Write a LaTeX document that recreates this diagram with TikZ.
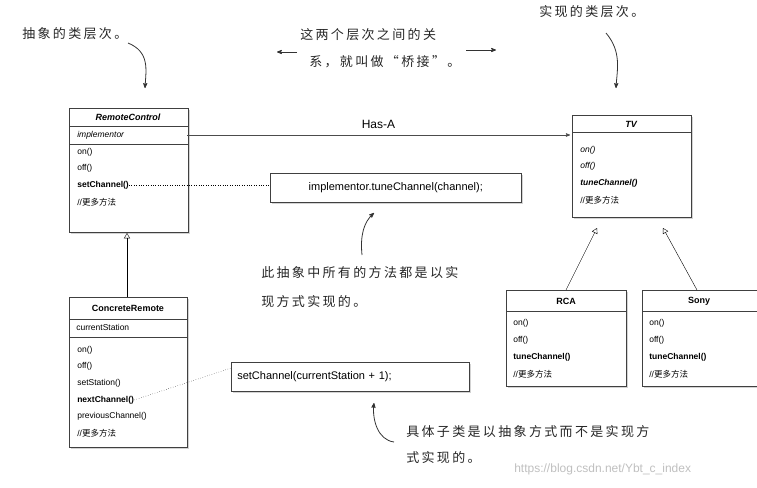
\documentclass[tikz,border=0pt]{standalone}
\usepackage{fontspec}
\setmainfont{Liberation Sans}
\newfontfamily\cjk{Noto Sans CJK SC}
\newfontfamily\cjkhand[LetterSpace=18]{Noto Sans CJK SC}
\usetikzlibrary{arrows,shadows}

\begin{document}
\begin{tikzpicture}[x=1pt, y=-1pt, >=stealth', semithick,
  umlbox/.style={draw=black!75, fill=white, drop shadow={opacity=0.35, shadow xshift=2pt, shadow yshift=-2pt}},
  codebox/.style={draw=black!75, fill=white, minimum height=29pt, inner xsep=6pt, anchor=north west, font=\fontsize{11}{12}\selectfont, drop shadow={opacity=0.35, shadow xshift=2pt, shadow yshift=-2pt}},
  member/.style={anchor=west, inner sep=0pt, font=\fontsize{8.5}{9}\selectfont},
  title/.style={inner sep=0pt, font=\fontsize{9}{10}\selectfont\bfseries},
  note/.style={anchor=west, inner sep=0pt, font=\cjkhand\fontsize{13}{14}\selectfont, text=black!85},
  inherit/.style={-{open triangle 60[scale=2.2]}, thin},
  hand/.style={->, thick, black!80}]
\useasboundingbox (0,0) rectangle (757,487);

% abstraction side
\draw[umlbox] (69,108) rectangle (188,232);
\draw[black!75] (69,126) -- (188,126) (69,144) -- (188,144);
\node[title] (rc) at (128,117) {\itshape RemoteControl};
\node[member] (impl) at (77,135) {\itshape implementor};
\node[member] (rcon) at (77,152) {on()};
\node[member] (rcoff) at (77,168) {off()};
\node[member] (rcset) at (77,185) {\bfseries setChannel()};
\node[member] (rcmore) at (77,202) {//{\cjk 更多方法}};
\coordinate (rcbot) at (127,233);
\coordinate (rcright) at (187,135);

\draw[umlbox] (69,297) rectangle (187,447);
\draw[black!75] (69,319) -- (187,319) (69,337) -- (187,337);
\node[title] (cr) at (128,308) {ConcreteRemote};
\node[member] (crst) at (76,327) {currentStation};
\node[member] (cron) at (77,350) {on()};
\node[member] (croff) at (77,366) {off()};
\node[member] (crset) at (77,383) {setStation()};
\node[member] (crnext) at (77,400) {\bfseries nextChannel()};
\node[member] (crprev) at (77,416) {previousChannel()};
\node[member] (crmore) at (77,433) {//{\cjk 更多方法}};
\coordinate (crtop) at (127,297);

% implementation side
\draw[umlbox] (572,115) rectangle (691,217);
\draw[black!75] (572,132) -- (691,132);
\node[title] (tv) at (631,124) {\itshape TV};
\node[member] (tvon) at (580,150) {\itshape on()};
\node[member] (tvoff) at (580,166) {\itshape off()};
\node[member] (tvtune) at (580,183) {\itshape\bfseries tuneChannel()};
\node[member] (tvmore) at (580,200) {//{\cjk 更多方法}};
\coordinate (tvleft) at (570,135);
\coordinate (tvtipa) at (597,228);
\coordinate (tvtipb) at (663,228);

\draw[umlbox] (506,290) rectangle (626,386);
\draw[black!75] (506,311) -- (626,311);
\node[title] (rca) at (566,301) {RCA};
\node[member] (rcaon) at (513,323) {on()};
\node[member] (rcaoff) at (513,340) {off()};
\node[member] (rcatune) at (513,357) {\bfseries tuneChannel()};
\node[member] (rcamore) at (513,374) {//{\cjk 更多方法}};
\coordinate (rcatop) at (566,290);

\draw[umlbox] (642,290) rectangle (762,386);
\draw[black!75] (642,311) -- (762,311);
\node[title] (sony) at (699,301) {Sony};
\node[member] (sonyon) at (649,323) {on()};
\node[member] (sonyoff) at (649,340) {off()};
\node[member] (sonytune) at (649,357) {\bfseries tuneChannel()};
\node[member] (sonymore) at (649,374) {//{\cjk 更多方法}};
\coordinate (sonytop) at (697,290);

% code notes
\node[codebox, minimum width=251pt] (code1) at (270,173) {implementor.tuneChannel(channel);};
\node[codebox, text width=226pt, align=left] (code2) at (231,362) {setChannel(currentStation + 1);};

% connectors
\draw[->, black!70] (rcright) -- node[above=3pt, font=\fontsize{12}{13}\selectfont, text=black] (hasa) {Has-A} (tvleft);
\draw[inherit] (crtop) -- (rcbot);
\draw[inherit] (rcatop) -- (tvtipa);
\draw[inherit] (sonytop) -- (tvtipb);
\draw[dotted, thin] (rcset.east) -- (code1.west |- rcset.east);
\draw[dotted, thin] (crnext.east) -- ([yshift=-6pt]code2.north west);

% handwritten notes
\node[note] (nabs) at (22,34) {抽象的类层次。};
\node[note] (nbr1) at (300,35) {这两个层次之间的关};
\node[note] (nbr2) at (309,62) {系，就叫做“桥接”。};
\node[note] (nimp) at (539,12) {实现的类层次。};
\node[note] (nall1) at (261,273) {此抽象中所有的方法都是以实};
\node[note] (nall2) at (261,302) {现方式实现的。};
\node[note] (nsub1) at (406,432) {具体子类是以抽象方式而不是实现方};
\node[note] (nsub2) at (406,458) {式实现的。};
\node[anchor=west, inner sep=0pt, text=black!25, font=\fontsize{12}{13}\selectfont] (wm) at (514,469) {https://blog.csdn.net/Ybt\_c\_index};

\coordinate (aa) at (128,43);
\coordinate (ab) at (145,88);
\draw[hand] (aa) .. controls (150,52) and (146,70) .. (ab);
\coordinate (ba) at (297,52);
\coordinate (bb) at (277,52);
\coordinate (bc) at (466,50);
\coordinate (bd) at (496,50);
\draw[hand] (ba) -- (bb);
\draw[hand] (bc) -- (bd);
\coordinate (ca) at (606,33);
\coordinate (cb) at (616,88);
\draw[hand] (ca) .. controls (622,52) and (617,70) .. (cb);
\coordinate (da) at (362,255);
\coordinate (db) at (374,213);
\draw[hand] (da) .. controls (360,235) and (364,222) .. (db);
\coordinate (ea) at (394,442);
\coordinate (eb) at (374,403);
\draw[hand] (ea) .. controls (378,440) and (372,420) .. (eb);
\end{tikzpicture}
\end{document}
